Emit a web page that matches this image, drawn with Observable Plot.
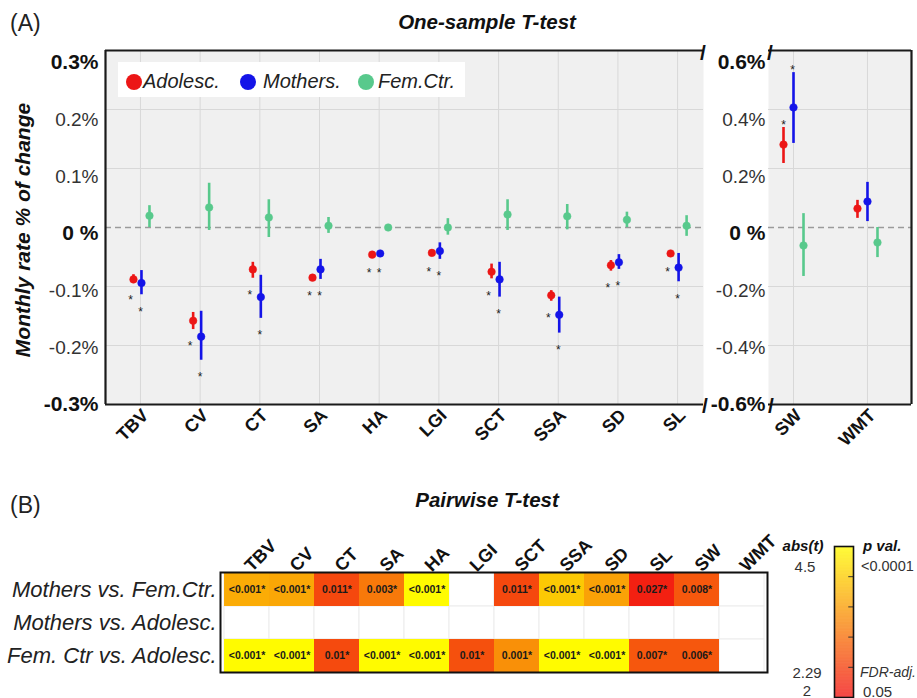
<!DOCTYPE html>
<html>
<head>
<meta charset="utf-8">
<script src="https://cdn.jsdelivr.net/npm/d3@7"></script>
<script src="https://cdn.jsdelivr.net/npm/@observablehq/plot@0.6"></script>
<style>
  html, body { margin: 0; padding: 0; background: #fff; }
  body { font-family: "Liberation Sans", Arial, sans-serif; }
  #root { position: relative; width: 917px; height: 698px; overflow: hidden; background: #fff; }
  #root svg { position: absolute; left: 0; top: 0; }
  .t { position: absolute; white-space: nowrap; color: #111; line-height: 1; }
</style>
</head>
<body>
<div id="root"></div>
<script>
// ---------------- DATA ----------------
const regionsLeft = ["TBV", "CV", "CT", "SA", "HA", "LGI", "SCT", "SSA", "SD", "SL"];
const regionsRight = ["SW", "WMT"];
const allRegions = [...regionsLeft, ...regionsRight];

// monthly rate % of change (mean, lower, upper), order = allRegions
const adolescMean = [-0.088, -0.158, -0.071, -0.085, -0.046, -0.043, -0.075, -0.115, -0.064, -0.044, 0.281, 0.064];
const adolescLow  = [-0.095, -0.173, -0.086, -0.088, -0.049, -0.047, -0.087, -0.125, -0.074, -0.047, 0.217, 0.031];
const adolescHigh = [-0.080, -0.144, -0.059, -0.082, -0.043, -0.039, -0.062, -0.107, -0.056, -0.042, 0.339, 0.092];
const adolescSig  = [1, 1, 1, 1, 1, 1, 1, 1, 1, 1, 1, 0];

const mothersMean = [-0.094, -0.185, -0.118, -0.071, -0.044, -0.040, -0.088, -0.148, -0.059, -0.068, 0.407, 0.088];
const mothersLow  = [-0.114, -0.225, -0.154, -0.088, -0.048, -0.054, -0.118, -0.179, -0.071, -0.092, 0.285, 0.020];
const mothersHigh = [-0.073, -0.142, -0.081, -0.054, -0.040, -0.026, -0.059, -0.118, -0.046, -0.044, 0.525, 0.153];
const mothersSig  = [1, 1, 1, 1, 1, 1, 1, 1, 1, 1, 1, 0];

const femCtrMean = [0.020, 0.034, 0.017, 0.003, 0.000, 0.000, 0.022, 0.019, 0.013, 0.003, -0.061, -0.051];
const femCtrLow  = [0.000, -0.005, -0.017, -0.010, -0.002, -0.013, -0.005, -0.004, 0.000, -0.015, -0.166, -0.102];
const femCtrHigh = [0.037, 0.075, 0.047, 0.017, 0.002, 0.015, 0.047, 0.039, 0.026, 0.020, 0.047, 0.000];
const femCtrSig  = [0, 0, 0, 0, 0, 0, 0, 0, 0, 0, 0, 0];

const yTicksLeft = [-0.3, -0.2, -0.1, 0, 0.1, 0.2, 0.3];
const yBoldLeft = [-0.3, 0, 0.3];
const yTicksRight = [-0.6, -0.4, -0.2, 0, 0.2, 0.4, 0.6];
const yBoldRight = [-0.6, 0, 0.6];

// pairwise T-test
const comparisons = ["Mothers vs. Fem.Ctr.", "Mothers vs. Adolesc.", "Fem. Ctr vs. Adolesc."];
const tMothersFem = [3.65, 3.6, 2.58, 3.1, 4.5, null, 2.58, 3.96, 3.55, 2.15, 2.75, null];
const pMothersFem = ["<0.001*", "<0.001*", "0.011*", "0.003*", "<0.001*", "", "0.011*", "<0.001*", "<0.001*", "0.027*", "0.008*", ""];
const tMothersAdo = [null, null, null, null, null, null, null, null, null, null, null, null];
const pMothersAdo = ["", "", "", "", "", "", "", "", "", "", "", ""];
const tFemAdo = [4.5, 4.5, 2.6, 4.5, 4.5, 2.66, 3.35, 4.5, 4.5, 2.74, 2.74, null];
const pFemAdo = ["<0.001*", "<0.001*", "0.01*", "<0.001*", "<0.001*", "0.01*", "0.001*", "<0.001*", "<0.001*", "0.007*", "0.006*", ""];

const colorDomain = [2, 4.5];
const colorRange = ["#f21212", "#fffb00"];

// ---------------- BUILD ----------------
const W = 917, H = 698;
const FONT = '"Liberation Sans", Arial, sans-serif';
const root = document.getElementById("root");

const series = [
  {name: "Adolesc.", color: "#ec1616", mean: adolescMean, low: adolescLow, high: adolescHigh, sig: adolescSig, dxL: -7, dxR: -10, sdxL: -10, sdxR: -10},
  {name: "Mothers.", color: "#1414e8", mean: mothersMean, low: mothersLow, high: mothersHigh, sig: mothersSig, dxL: 1, dxR: 0, sdxL: 0, sdxR: -1},
  {name: "Fem.Ctr.", color: "#58c98c", mean: femCtrMean, low: femCtrLow, high: femCtrHigh, sig: femCtrSig, dxL: 9, dxR: 10, sdxL: 9, sdxR: 10}
];

function rowsFor(s, start, count) {
  const out = [];
  for (let k = 0; k < count; k++) {
    const j = start + k;
    out.push({i: k, region: allRegions[j], mean: s.mean[j], low: s.low[j], high: s.high[j], sig: s.sig[j]});
  }
  return out;
}

const fmtPct = v => v === 0 ? "0 %" : (v < 0 ? "-" : "") + (+Math.abs(v).toFixed(1)) + "%";

function tickLabels(ticks, bold, dyScale, dx) {
  return ticks.map(v => Plot.text([v], {
    y: d => d, text: fmtPct, frameAnchor: "left", textAnchor: "end",
    dx: dx, dy: 6 + v * dyScale,
    fontSize: bold.includes(v) ? 21 : 19,
    fontWeight: bold.includes(v) ? "bold" : "normal",
    fill: bold.includes(v) ? "#111" : "#333"
  }));
}

function seriesMarks(start, count, side) {
  const marks = [];
  for (const s of series) {
    const rows = rowsFor(s, start, count);
    const dx = side === "L" ? s.dxL : s.dxR;
    const sdx = side === "L" ? s.sdxL : s.sdxR;
    marks.push(Plot.ruleX(rows, {x: "i", y1: "low", y2: "high", stroke: s.color, strokeWidth: 2.6, dx}));
    marks.push(Plot.dot(rows, {x: "i", y: "mean", r: 3.8, fill: s.color, stroke: s.color, strokeWidth: 0.5, dx}));
    const sigRows = rows.filter(d => d.sig);
    if (sigRows.length) {
      if (side === "L") {
        marks.push(Plot.text(sigRows, {x: "i", y: "low", text: () => "*", dx: sdx, dy: 17, fontSize: 12, fill: "#222"}));
      } else {
        marks.push(Plot.text(sigRows, {x: "i", y: "high", text: () => "*", dx: sdx, dy: -2, fontSize: 12, fill: "#222"}));
      }
    }
  }
  return marks;
}

const gridColor = "#d8d8d8";
const bg = "#f0f0f0";

// Left panel
const xLeftDomain = [-0.586, 9.434];
const leftPlot = Plot.plot({
  width: W, height: H,
  marginLeft: 105, marginRight: 214, marginTop: 50, marginBottom: 294,
  style: {background: "transparent", overflow: "visible", fontFamily: FONT},
  x: {type: "linear", domain: xLeftDomain, axis: null},
  y: {domain: [-0.3, 0.3], axis: null},
  marks: [
    Plot.frame({fill: bg, stroke: "none"}),
    Plot.ruleX(regionsLeft.map((d, i) => i), {x: d => d, stroke: gridColor, strokeWidth: 1}),
    Plot.ruleY(yTicksLeft.filter(v => v !== 0 && Math.abs(v) < 0.3), {y: d => d, stroke: gridColor, strokeWidth: 1}),
    Plot.ruleY([0], {stroke: "#9a9a9a", strokeWidth: 1.4, strokeDasharray: "6,4"}),
    ...seriesMarks(0, regionsLeft.length, "L"),
    Plot.ruleY([-0.3], {stroke: "#1a1a1a", strokeWidth: 2.2}),
    Plot.ruleY([0.3], {stroke: "#1a1a1a", strokeWidth: 2.2}),
    Plot.ruleX([xLeftDomain[0]], {stroke: "#1a1a1a", strokeWidth: 2.2}),
    ...tickLabels(yTicksLeft, yBoldLeft, 20, -7),
    Plot.text(regionsLeft, {x: (d, i) => i, text: d => d, frameAnchor: "bottom", rotate: -45, textAnchor: "end",
      dx: 9, dy: 12, fontSize: 18, fontWeight: "bold", fill: "#111"})
  ]
});

// Right panel
const xRightDomain = [-0.338, 1.595];
const rightPlot = Plot.plot({
  width: W, height: H,
  marginLeft: 768, marginRight: 6, marginTop: 50, marginBottom: 294,
  style: {background: "transparent", overflow: "visible", fontFamily: FONT},
  x: {type: "linear", domain: xRightDomain, axis: null},
  y: {domain: [-0.6, 0.6], axis: null},
  marks: [
    Plot.frame({fill: bg, stroke: "none"}),
    Plot.ruleX(regionsRight.map((d, i) => i), {x: d => d, stroke: gridColor, strokeWidth: 1}),
    Plot.ruleY(yTicksRight.filter(v => v !== 0 && Math.abs(v) < 0.6), {y: d => d, stroke: gridColor, strokeWidth: 1}),
    Plot.ruleY([0], {stroke: "#9a9a9a", strokeWidth: 1.4, strokeDasharray: "6,4"}),
    ...seriesMarks(regionsLeft.length, regionsRight.length, "R"),
    Plot.ruleY([-0.6], {stroke: "#1a1a1a", strokeWidth: 2.2}),
    Plot.ruleY([0.6], {stroke: "#1a1a1a", strokeWidth: 2.2}),
    Plot.ruleX([xRightDomain[1]], {stroke: "#1a1a1a", strokeWidth: 2.2}),
    ...tickLabels(yTicksRight, yBoldRight, 10, -3),
    Plot.text(regionsRight, {x: (d, i) => i, text: d => d, frameAnchor: "bottom", rotate: -45, textAnchor: "end",
      dx: 9, dy: 12, fontSize: 18, fontWeight: "bold", fill: "#111"})
  ]
});

// Heatmap
const cells = [];
const tRows = [tMothersFem, tMothersAdo, tFemAdo];
const pRows = [pMothersFem, pMothersAdo, pFemAdo];
comparisons.forEach((c, r) => {
  allRegions.forEach((reg, j) => {
    cells.push({comp: c, region: reg, t: tRows[r][j], p: pRows[r][j]});
  });
});
const filled = cells.filter(d => d.t != null);

const heatPlot = Plot.plot({
  width: W, height: H,
  marginLeft: 220, marginRight: 150, marginTop: 572, marginBottom: 26,
  style: {background: "transparent", overflow: "visible", fontFamily: FONT},
  x: {type: "band", domain: allRegions, padding: 0, axis: null},
  y: {type: "band", domain: comparisons, padding: 0, axis: null},
  color: {type: "linear", domain: colorDomain, range: colorRange, clamp: true},
  marks: [
    Plot.cell(cells, {x: "region", y: "comp", fill: "white", stroke: "#ececec", strokeWidth: 1}),
    Plot.cell(filled, {x: "region", y: "comp", fill: "t"}),
    Plot.text(filled, {x: "region", y: "comp", text: "p", fontSize: 10.5, fontWeight: "bold", fill: "#1a1a1a"}),
    Plot.frame({stroke: "#111", strokeWidth: 2}),
    Plot.text(allRegions, {x: d => d, text: d => d, frameAnchor: "top", rotate: -45, textAnchor: "start",
      dx: -4, dy: -9, fontSize: 18, fontWeight: "bold", fill: "#111"}),
    Plot.text(comparisons, {y: d => d, text: d => d, frameAnchor: "left", textAnchor: "end",
      dx: -4, fontSize: 22, fontStyle: "italic", fill: "#222"})
  ]
});

// Colour bar
const cbSteps = d3.range(0, 250).map(k => colorDomain[0] + k * (colorDomain[1] - colorDomain[0]) / 250);
const cbStep = (colorDomain[1] - colorDomain[0]) / 250;
const cbTicks = [2.5, 3, 3.5, 4];
const cbPlot = Plot.plot({
  width: W, height: H,
  marginLeft: 834, marginRight: 64, marginTop: 546, marginBottom: 1,
  style: {background: "transparent", overflow: "visible", fontFamily: FONT},
  x: {type: "linear", domain: [0, 1], axis: null},
  y: {type: "linear", domain: colorDomain, axis: null},
  color: {type: "linear", domain: colorDomain, range: colorRange, clamp: true},
  marks: [
    Plot.rect(cbSteps, {y1: d => d, y2: d => d + cbStep * 1.05, fill: d => d + cbStep / 2}),
    Plot.ruleY(cbTicks, {y: d => d, x1: () => 0.75, x2: () => 1, stroke: "#333", strokeWidth: 1}),
    Plot.frame({stroke: "#111", strokeWidth: 1.6})
  ]
});

for (const p of [leftPlot, rightPlot, heatPlot, cbPlot]) root.appendChild(p);

// HTML text: titles, labels, legend
function addText(txt, css) {
  const d = document.createElement("div");
  d.className = "t";
  d.textContent = txt;
  Object.assign(d.style, css);
  root.appendChild(d);
  return d;
}
addText("(A)", {left: "10px", top: "12px", fontSize: "23px", color: "#222"});
addText("(B)", {left: "10px", top: "494px", fontSize: "23px", color: "#222"});
addText("One-sample T-test", {left: "487px", top: "12px", transform: "translateX(-50%)", fontSize: "20.5px", fontWeight: "bold", fontStyle: "italic"});
addText("Pairwise T-test", {left: "487px", top: "490px", transform: "translateX(-50%)", fontSize: "20.5px", fontWeight: "bold", fontStyle: "italic"});
addText("Monthly rate % of change", {left: "22px", top: "230px", transform: "translate(-50%,-50%) rotate(-90deg)", fontSize: "21px", fontWeight: "bold", fontStyle: "italic"});

// axis break marks
const slashCss = {fontSize: "21px", fontWeight: "bold", transform: "translate(-50%,-50%)"};
addText("/", {...slashCss, left: "703px", top: "52px"});
addText("/", {...slashCss, left: "770px", top: "52px"});
addText("/", {...slashCss, left: "705px", top: "405px"});
addText("/", {...slashCss, left: "771px", top: "405px"});

// legend
const legend = document.createElement("div");
Object.assign(legend.style, {position: "absolute", left: "118px", top: "62px", width: "347px", height: "35px", background: "#fff"});
root.appendChild(legend);
const legendX = [16, 130, 248];
const legendGap = [9, 15, 12];
series.forEach((s, k) => {
  const c = document.createElement("div");
  Object.assign(c.style, {position: "absolute", left: (legendX[k] - 8) + "px", top: "12px", width: "16px", height: "16px", borderRadius: "50%", background: s.color});
  legend.appendChild(c);
  const t = document.createElement("div");
  t.className = "t";
  t.textContent = s.name;
  Object.assign(t.style, {left: (legendX[k] + legendGap[k]) + "px", top: "9px", fontSize: "20px", fontStyle: "italic", color: "#222"});
  legend.appendChild(t);
});

// colour bar labels
addText("abs(t)", {left: "803px", top: "545px", transform: "translate(-50%,-50%)", fontSize: "15px", fontWeight: "bold", fontStyle: "italic"});
addText("4.5", {left: "805px", top: "566px", transform: "translate(-50%,-50%)", fontSize: "15px", color: "#333"});
addText("2.29", {left: "807px", top: "672px", transform: "translate(-50%,-50%)", fontSize: "15px", color: "#333"});
addText("2", {left: "807px", top: "690px", transform: "translate(-50%,-50%)", fontSize: "15px", color: "#333"});
addText("p val.", {left: "863px", top: "545px", transform: "translateY(-50%)", fontSize: "15px", fontWeight: "bold", fontStyle: "italic"});
addText("<0.0001", {left: "861px", top: "566px", transform: "translateY(-50%)", fontSize: "14.5px", color: "#333"});
addText("FDR-adj.", {left: "860px", top: "672px", transform: "translateY(-50%)", fontSize: "14px", fontStyle: "italic", color: "#333"});
addText("0.05", {left: "863px", top: "691px", transform: "translateY(-50%)", fontSize: "15px", color: "#333"});
</script>
</body>
</html>
